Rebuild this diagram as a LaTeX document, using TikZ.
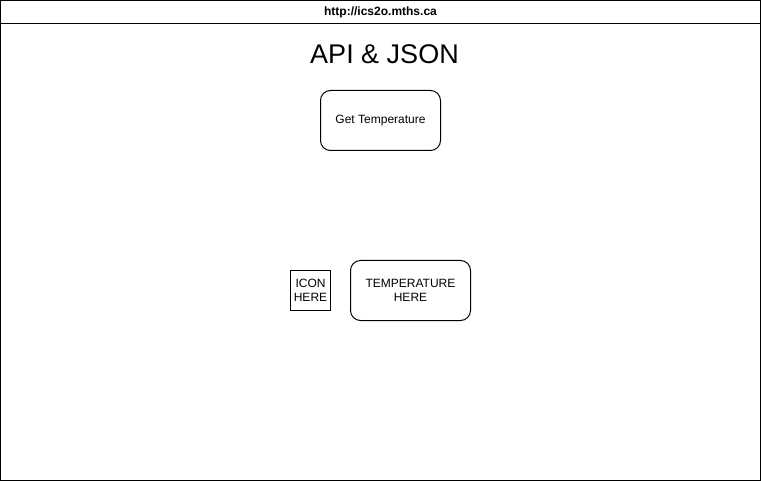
\documentclass[tikz,border=0pt]{standalone}
\usepackage{fontspec}
\setmainfont{Liberation Sans}
\begin{document}
\begin{tikzpicture}[x=0.75pt,y=-0.75pt,line width=0.75pt,
  roundbox/.style={draw,rounded corners=7.5pt,minimum width=90pt,minimum height=45pt,inner sep=0pt,align=center,font=\fontsize{9}{10.5}\selectfont},
  sqbox/.style={draw,minimum width=30pt,minimum height=30pt,inner sep=0pt,align=center,font=\fontsize{9}{10.5}\selectfont}]
\useasboundingbox (0,0) rectangle (761,481);
\draw (0.5,0.5) rectangle (760.5,480.5);
\draw (0.5,23.5) -- (760.5,23.5);
\node (url) at (380.5,12) {\fontsize{9}{10}\selectfont\bfseries http://ics2o.mths.ca};
\node (title) at (384.5,54) {\fontsize{20.25}{22}\selectfont API \& JSON};
\node[roundbox] (get) at (380.5,120.5) {Get Temperature};
\node[sqbox] (icon) at (310.5,290.5) {ICON\\HERE};
\node[roundbox] (temp) at (410.5,290.5) {TEMPERATURE\\HERE};
\end{tikzpicture}
\end{document}
